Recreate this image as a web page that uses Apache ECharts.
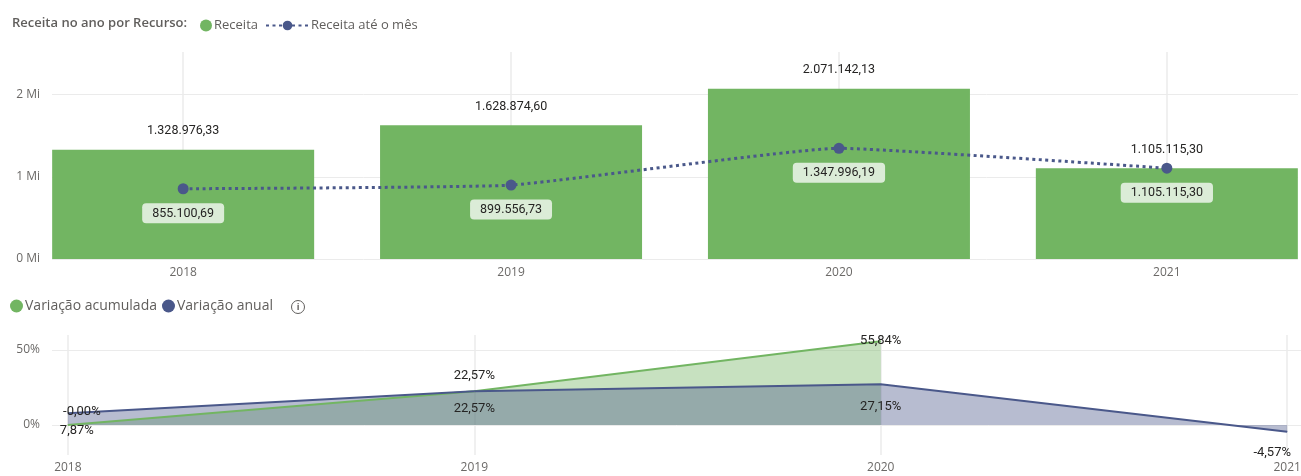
<!DOCTYPE html>
<html>
<head>
<meta charset="utf-8">
<script src="https://cdn.jsdelivr.net/npm/echarts@6/dist/echarts.min.js"></script>
<style>
  html, body { margin: 0; padding: 0; background: #fff; }
  #main { width: 1301px; height: 476px; }
</style>
</head>
<body>
<div id="main"></div>
<script>
var years = ['2018', '2019', '2020', '2021']
var receita = [1328976.33, 1628874.60, 2071142.13, 1105115.30]
var receitaAteMes = [855100.69, 899556.73, 1347996.19, 1105115.30]
var varAcumulada = [-0.001, 22.57, 55.84, null]
var varAnual = [7.87, 22.57, 27.15, -4.57]
var topTicks = [0, 1000000, 2000000]
var bottomTicks = [0, 50]

// posição dos rótulos no gráfico de baixo (estilo por ponto)
var acumLabel = [
  { position: 'top', offset: [14, -1] },
  { position: 'top', offset: [0, -3] },
  { position: 'inside', offset: [0, 0] },
  null
]
var anualLabel = [
  { position: 'bottom', offset: [9, 5] },
  { position: 'bottom', offset: [0, 5] },
  { position: 'bottom', offset: [0, 10] },
  { position: 'bottom', offset: [-15, 8] }
]

var GREEN = '#72B562'
var BLUE = '#4A588A'
var GRID = '#EBEBEB'
var AXIS_TXT = '#6b6967'
var LBL = '#252423'

function fmtBR(v) {
  var parts = v.toFixed(2).split('.')
  return parts[0].replace(/\B(?=(\d{3})+(?!\d))/g, '.') + ',' + parts[1]
}
function fmtPct(v) {
  return v.toFixed(2).replace('.', ',') + '%'
}
function pts(arr) {
  return arr.map(function(v, i) { return v === null ? null : [i, v] })
}
function ptsLabeled(arr, lbls) {
  return arr.map(function(v, i) {
    if (v === null) return null
    var l = lbls[i]
    return { value: [i, v], label: { position: l.position, offset: l.offset } }
  })
}

var chart = echarts.init(document.getElementById('main'))

var option = {
  backgroundColor: '#fff',
  animation: false,
  textStyle: { fontFamily: 'Open Sans' },
  title: {
    text: 'Receita no ano por Recurso:',
    left: 12,
    top: 17,
    padding: 0,
    textStyle: { fontSize: 13, fontWeight: 600, color: '#605E5C', fontFamily: 'Open Sans' }
  },
  legend: [
    {
      data: [{ name: 'Receita', icon: 'circle' }],
      left: 200,
      top: 19,
      padding: 0,
      itemWidth: 12,
      itemHeight: 12,
      textStyle: { fontSize: 13, color: '#605E5C', fontFamily: 'Open Sans', padding: [0, 0, 0, -3] }
    },
    {
      data: ['Receita até o mês'],
      left: 265,
      top: 19,
      padding: 0,
      itemWidth: 43,
      itemHeight: 12,
      textStyle: { fontSize: 13, color: '#605E5C', fontFamily: 'Open Sans', padding: [0, 0, 0, -3] }
    },
    {
      data: [
        { name: 'Variação acumulada', icon: 'circle' },
        { name: 'Variação anual', icon: 'circle' }
      ],
      left: 10,
      top: 299,
      padding: 0,
      itemWidth: 13,
      itemHeight: 13,
      itemGap: 5,
      textStyle: { fontSize: 14, color: '#605E5C', fontFamily: 'Open Sans', padding: [0, 0, 0, -3] }
    }
  ],
  graphic: [
    {
      type: 'group',
      left: 289,
      top: 298,
      children: [
        { type: 'circle', shape: { cx: 7, cy: 7, r: 6.5 }, style: { fill: 'none', stroke: '#605E5C', lineWidth: 1 } },
        { type: 'text', x: 7, y: 7.5, style: { text: 'i', fill: '#605E5C', font: 'bold 9px "Open Sans"', align: 'center', verticalAlign: 'middle' } }
      ]
    }
  ],
  grid: [
    { left: 52, right: 3, top: 52, height: 207, outerBoundsMode: 'none' },
    { left: 52, right: 0, top: 335, height: 120, outerBoundsMode: 'none' }
  ],
  xAxis: [
    {
      gridIndex: 0,
      type: 'value',
      min: -0.4,
      max: 3.4,
      axisLine: { show: false },
      axisTick: { show: false, customValues: [0, 1, 2, 3] },
      axisLabel: {
        customValues: [0, 1, 2, 3],
        formatter: function(v) { return years[Math.round(v)] },
        color: AXIS_TXT,
        fontSize: 12,
        margin: 8,
        fontFamily: 'Open Sans'
      },
      splitLine: { show: true, lineStyle: { color: GRID, width: 1.5 } }
    },
    {
      gridIndex: 1,
      type: 'value',
      min: -0.039,
      max: 3.034,
      axisLine: { show: false },
      axisTick: { show: false, customValues: [0, 1, 2, 3] },
      axisLabel: {
        customValues: [0, 1, 2, 3],
        formatter: function(v) { return years[Math.round(v)] },
        color: AXIS_TXT,
        fontSize: 12,
        margin: 7,
        fontFamily: 'Open Sans'
      },
      splitLine: { show: true, lineStyle: { color: GRID, width: 1.5 } }
    }
  ],
  yAxis: [
    {
      gridIndex: 0,
      type: 'value',
      min: 0,
      max: 2520000,
      axisLine: { show: false },
      axisTick: { show: false, customValues: topTicks },
      axisLabel: {
        customValues: topTicks,
        formatter: function(v) { return (v / 1000000) + ' Mi' },
        color: AXIS_TXT,
        fontSize: 12,
        margin: 12,
        fontFamily: 'Open Sans'
      },
      splitLine: { show: true, lineStyle: { color: GRID, width: 1 } }
    },
    {
      gridIndex: 1,
      type: 'value',
      min: -20,
      max: 60,
      axisLine: { show: false },
      axisTick: { show: false, customValues: bottomTicks },
      axisLabel: {
        customValues: bottomTicks,
        formatter: function(v) { return v + '%' },
        color: AXIS_TXT,
        fontSize: 12,
        margin: 12,
        fontFamily: 'Open Sans'
      },
      splitLine: { show: true, lineStyle: { color: GRID, width: 1 } }
    }
  ],
  series: [
    {
      name: 'Receita',
      type: 'bar',
      xAxisIndex: 0,
      yAxisIndex: 0,
      barWidth: 262,
      data: pts(receita),
      itemStyle: { color: GREEN },
      label: {
        show: true,
        position: 'top',
        distance: 12,
        color: LBL,
        fontSize: 12.5,
        fontFamily: 'Roboto',
        formatter: function(p) { return fmtBR(p.value[1]) }
      }
    },
    {
      name: 'Receita até o mês',
      type: 'line',
      xAxisIndex: 0,
      yAxisIndex: 0,
      data: pts(receitaAteMes),
      smooth: 0.12,
      symbol: 'circle',
      symbolSize: 11,
      itemStyle: { color: BLUE },
      lineStyle: { color: BLUE, width: 3, type: [3, 3.5] },
      label: {
        show: true,
        position: 'bottom',
        distance: 9,
        color: LBL,
        fontSize: 12.5,
        fontFamily: 'Roboto',
        backgroundColor: 'rgba(255,255,255,0.75)',
        borderRadius: 4,
        padding: [4, 10, 3, 10],
        formatter: function(p) { return fmtBR(p.value[1]) }
      },
      z: 3
    },
    // áreas do gráfico de baixo
    {
      name: 'Variação acumulada',
      type: 'line',
      xAxisIndex: 1,
      yAxisIndex: 1,
      data: pts(varAcumulada),
      symbol: 'none',
      lineStyle: { width: 0 },
      itemStyle: { color: GREEN },
      areaStyle: { color: GREEN, opacity: 0.4 },
      z: 1
    },
    {
      name: 'Variação anual',
      type: 'line',
      xAxisIndex: 1,
      yAxisIndex: 1,
      data: pts(varAnual),
      symbol: 'none',
      lineStyle: { width: 0 },
      itemStyle: { color: BLUE },
      areaStyle: { color: BLUE, opacity: 0.4 },
      z: 1
    },
    // linhas + rótulos
    {
      name: 'Variação acumulada',
      type: 'line',
      xAxisIndex: 1,
      yAxisIndex: 1,
      data: ptsLabeled(varAcumulada, acumLabel),
      symbol: 'circle',
      symbolSize: 0.5,
      showSymbol: true,
      itemStyle: { color: GREEN },
      lineStyle: { color: GREEN, width: 2 },
      label: {
        show: true,
        distance: 6,
        color: LBL,
        fontSize: 13,
        fontFamily: 'Roboto',
        formatter: function(p) { return fmtPct(p.value[1]) }
      },
      z: 4
    },
    {
      name: 'Variação anual',
      type: 'line',
      xAxisIndex: 1,
      yAxisIndex: 1,
      data: ptsLabeled(varAnual, anualLabel),
      symbol: 'circle',
      symbolSize: 0.5,
      showSymbol: true,
      itemStyle: { color: BLUE },
      lineStyle: { color: BLUE, width: 2 },
      label: {
        show: true,
        distance: 6,
        color: LBL,
        fontSize: 13,
        fontFamily: 'Roboto',
        formatter: function(p) { return fmtPct(p.value[1]) }
      },
      z: 4
    }
  ]
}

chart.setOption(option)
</script>
</body>
</html>
